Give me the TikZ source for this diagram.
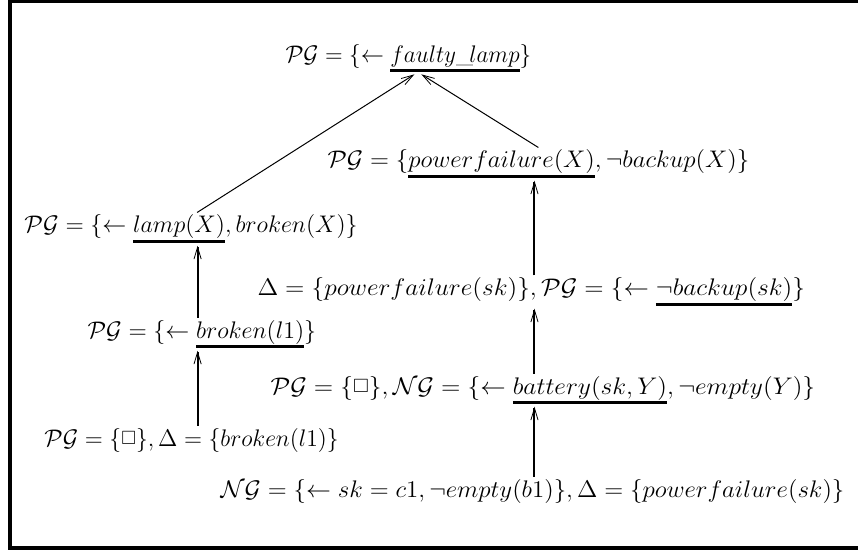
\documentclass[tikz,border=0pt]{standalone}
\usepackage{amssymb}
\usepackage{graphicx}
\usetikzlibrary{arrows.meta}

% thick underline for the selected literal
\newcommand{\ubar}[1]{\vtop{\hbox{$#1$}\kern0.6pt\hrule height1.5pt}}
% small empty clause
\newcommand{\eclause}{\mathord{\raisebox{0.15ex}{\scalebox{0.8}{$\Box$}}}}
% widen a goal line a little
\newcommand{\gl}[2]{\scalebox{#1}[1]{$#2$}}

\tikzset{every picture/.style={line width=1pt}}
\tikzset{
  goal/.style={anchor=base west,inner sep=0.75pt,font=\fontsize{12}{14}\selectfont},
  upstep/.style={-{Straight Barb[length=6pt,width=3.6pt,line width=0.4pt]}},
  thinstep/.style={line width=0.5pt,-{Straight Barb[length=6pt,width=3.6pt,line width=0.4pt]}}
}

\begin{document}
\begin{tikzpicture}[x=0.5pt,y=0.5pt,yscale=-1,xscale=1]
\useasboundingbox (0,0) rectangle (858,551);

%Shape: Rectangle
\draw [line width=2pt] (10,1) rectangle (862,548);

% Text Node
\node (n1) at (283,63) [goal] {\gl{0.965}{\mathcal{PG} = \{\leftarrow \ubar{faulty\_\!lamp}\}}};
% Text Node
\node (n2) at (325,168) [goal] {\gl{1.037}{\mathcal{PG} = \{\ubar{powerfailure(X)}, \neg backup(X)\}}};
% Text Node
\node (n3) at (22,233) [goal] {$\mathcal{PG} = \{\leftarrow \ubar{lamp(X)}, broken(X)\}$};
% Text Node
\node (n4) at (255,296) [goal] {\gl{1.057}{\Delta = \{powerfailure(sk)\}, \mathcal{PG} = \{\leftarrow \ubar{\neg backup(sk)}\}}};
% Text Node
\node (n5) at (85,338) [goal] {$\mathcal{PG} = \{\leftarrow \ubar{broken(l1)}\}$};
% Text Node
\node (n6) at (268,394) [goal] {\gl{1.06}{\mathcal{PG} = \{\eclause\}, \mathcal{NG} = \{\leftarrow \ubar{battery(sk,Y)}, \neg empty(Y)\}}};
% Text Node
\node (n7) at (42,446) [goal] {\gl{0.985}{\mathcal{PG} = \{\eclause\}, \Delta = \{broken(l1)\}}};
% Text Node
\node (n8) at (218,497) [goal] {\gl{1.037}{\mathcal{NG} = \{\leftarrow sk = c1, \neg empty(b1)\}, \Delta = \{powerfailure(sk)\}}};

%Straight Lines
\draw [upstep] ([xshift=3pt]n7.north) -- ([xshift=3pt]n7.north |- n5.south);
%Straight Lines
\draw [upstep] ([xshift=3pt]n7.north |- n5.north) -- ([xshift=3pt]n7.north |- n3.south);
%Straight Lines
\draw [upstep] ([xshift=1pt]n8.north) -- ([xshift=1pt]n8.north |- n6.south);
%Straight Lines
\draw [upstep] ([xshift=1pt]n8.north |- n6.north) -- ([xshift=1pt]n8.north |- n4.south);
%Straight Lines
\draw [upstep] ([xshift=1pt]n8.north |- n4.north) -- ([xshift=1pt]n8.north |- n2.south);
%Straight Lines
\draw [thinstep] ([xshift=3pt]n3.north) -- ([xshift=3pt]n1.south);
%Straight Lines
\draw [thinstep] (n2.north) -- ([xshift=6.5pt]n1.south);

\end{tikzpicture}
\end{document}
